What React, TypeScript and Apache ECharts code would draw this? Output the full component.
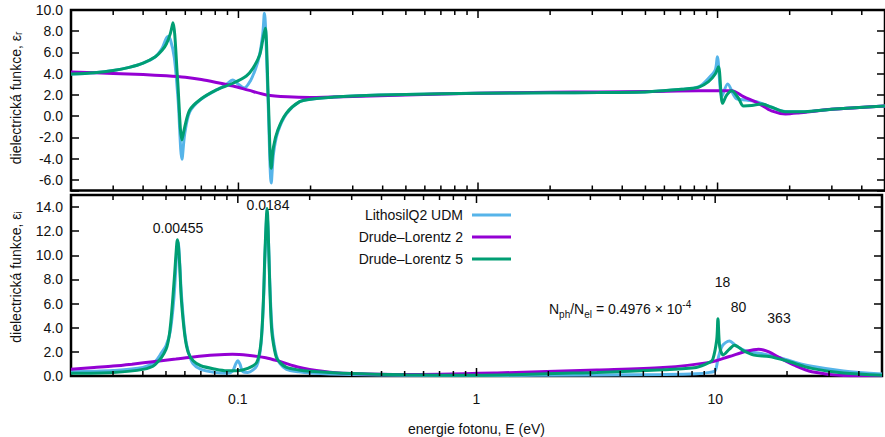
import React, { useEffect, useRef } from 'react';
import * as echarts from 'echarts';

const FONT = '"Liberation Sans", Arial, Helvetica, sans-serif';

const seriesNames = ['LithosilQ2 UDM', 'Drude–Lorentz 2', 'Drude–Lorentz 5'];
const seriesColors = ['#56b4e9', '#9400d3', '#009e73'];

// photon energy (eV), real part of permittivity
const udmReal: number[][] = [
  [0.02, 3.97], [0.025, 4.1], [0.03, 4.3], [0.035, 4.6], [0.04, 5.0], [0.045, 5.6], [0.048, 6.4],
  [0.0507, 7.5], [0.052, 7.2], [0.054, 5.5], [0.056, 1.5], [0.0581, -4.06], [0.0597, -1.6],
  [0.0626, 0.4], [0.0689, 1.5], [0.0809, 2.47], [0.088, 2.9], [0.0948, 3.4], [0.1, 3.0],
  [0.1058, 2.65], [0.112, 3.3], [0.118, 4.5], [0.1226, 5.8], [0.1264, 7.8], [0.1283, 9.7],
  [0.1327, 2.0], [0.1371, -6.3], [0.1401, -3.5], [0.146, -1.5], [0.1583, 0.2], [0.18, 1.35],
  [0.2, 1.6], [0.25, 1.8], [0.3, 1.9], [0.5, 2.05], [1, 2.15], [2, 2.2], [3.19, 2.22],
  [5.16, 2.31], [7.1, 2.53], [8.33, 2.75], [9.17, 3.57], [9.78, 4.35], [9.98, 5.6], [10.42, 1.84],
  [11.02, 3.03], [11.93, 1.69], [13.17, 1.53], [14.55, 1.37], [16.83, 0.84], [19.14, 0.45],
  [23.19, 0.42], [29.92, 0.65], [50, 0.97],
];
const dl2Real: number[][] = [
  [0.02, 4.15], [0.03, 4.03], [0.04, 3.92], [0.05, 3.8], [0.06, 3.66], [0.07, 3.45], [0.08, 3.2],
  [0.095, 2.84], [0.11, 2.45], [0.131, 2.0], [0.16, 1.82], [0.2, 1.76], [0.3, 1.85], [0.5, 2.0],
  [1, 2.15], [2, 2.25], [3.19, 2.28], [5.16, 2.33], [8.33, 2.4], [11.47, 2.4], [12.83, 1.84],
  [14.8, 1.21], [16.8, 0.49], [19.2, 0.21], [21.7, 0.3], [29.9, 0.65], [50, 0.97],
];
const dl5Real: number[][] = [
  [0.02, 3.97], [0.025, 4.1], [0.03, 4.3], [0.035, 4.6], [0.04, 5.0], [0.045, 5.6], [0.048, 6.2],
  [0.05, 6.8], [0.052, 7.8], [0.0533, 8.8], [0.0557, 3.5], [0.0581, -2.24], [0.0597, -1.0],
  [0.0626, 0.58], [0.0689, 1.53], [0.0809, 2.47], [0.0948, 3.1], [0.1079, 3.79], [0.1149, 4.5],
  [0.1226, 5.76], [0.1264, 7.2], [0.1294, 8.27], [0.1332, 1.7], [0.1371, -4.9], [0.1401, -2.87],
  [0.146, -1.3], [0.1583, 0.27], [0.18, 1.37], [0.2, 1.6], [0.25, 1.8], [0.3, 1.9], [0.5, 2.05],
  [1, 2.15], [2, 2.2], [3.19, 2.22], [5.16, 2.31], [7.1, 2.53], [8.33, 2.72], [9.17, 3.25],
  [9.78, 3.97], [10.09, 4.66], [10.49, 1.21], [10.93, 2.0], [11.47, 2.4], [12.23, 1.69],
  [12.83, 0.96], [13.89, 1.0], [15.29, 1.15], [16.83, 0.84], [19.14, 0.42], [23.19, 0.42],
  [29.92, 0.65], [50, 0.97],
];

// photon energy (eV), imaginary part of permittivity
const udmImag: number[][] = [
  [0.02, 0.35], [0.03, 0.45], [0.04, 0.7], [0.045, 1.2], [0.048, 1.95], [0.05, 2.5], [0.052, 3.6],
  [0.054, 6.5], [0.0556, 10.5], [0.0562, 11.1], [0.057, 9.6], [0.058, 6.8], [0.06, 3.5],
  [0.062, 2.0], [0.065, 1.0], [0.07, 0.55], [0.08, 0.3], [0.09, 0.22], [0.095, 0.4], [0.098, 1.0],
  [0.1, 1.26], [0.102, 1.0], [0.105, 0.35], [0.11, 0.3], [0.12, 0.85], [0.125, 2.6], [0.128, 6.0],
  [0.13, 10.0], [0.1327, 13.5], [0.134, 12.0], [0.136, 8.0], [0.138, 5.0], [0.14, 3.4],
  [0.145, 1.7], [0.15, 1.05], [0.16, 0.55], [0.18, 0.35], [0.2, 0.25], [0.3, 0.12], [0.5, 0.06],
  [1, 0.04], [3.19, 0.08], [6.05, 0.12], [8.33, 0.18], [9.46, 0.3], [10, 0.45], [10.27, 1.4],
  [10.71, 2.5], [11.47, 2.9], [12.23, 2.5], [13.5, 2.08], [16.1, 1.81], [18.5, 1.54],
  [21.7, 1.13], [25.4, 0.8], [34.5, 0.41], [50, 0.16],
];
const dl2Imag: number[][] = [
  [0.02, 0.55], [0.025, 0.7], [0.03, 0.82], [0.036, 0.98], [0.045, 1.2], [0.055, 1.4],
  [0.065, 1.58], [0.08, 1.74], [0.095, 1.8], [0.11, 1.72], [0.131, 1.52], [0.15, 1.2],
  [0.18, 0.72], [0.2, 0.55], [0.25, 0.3], [0.3, 0.2], [0.5, 0.12], [1.22, 0.25], [3.19, 0.5],
  [6.05, 0.7], [9.46, 1.13], [11.47, 1.62], [13.5, 2.05], [15.2, 2.22], [16.8, 2.0],
  [18.5, 1.54], [21.7, 0.85], [25.4, 0.36], [34.5, 0.05], [50, 0.02],
];
const dl5Imag: number[][] = [
  [0.02, 0.22], [0.03, 0.3], [0.04, 0.55], [0.045, 0.95], [0.05, 2.2], [0.052, 3.87], [0.054, 7.7],
  [0.0555, 11.0], [0.0559, 11.3], [0.057, 9.36], [0.058, 6.34], [0.06, 3.32], [0.062, 1.95],
  [0.065, 1.26], [0.07, 0.85], [0.08, 0.58], [0.09, 0.44], [0.1, 0.44], [0.11, 0.63], [0.12, 1.13],
  [0.125, 2.77], [0.128, 6.34], [0.13, 10.45], [0.1327, 13.88], [0.134, 12.1], [0.136, 7.7],
  [0.138, 4.42], [0.14, 3.05], [0.145, 1.54], [0.15, 1.13], [0.16, 0.71], [0.18, 0.5], [0.2, 0.4],
  [0.3, 0.2], [0.5, 0.1], [1, 0.06], [3.19, 0.3], [6.05, 0.52], [8.33, 0.71], [9.46, 1.13],
  [9.78, 1.4], [10.15, 3.0], [10.27, 4.75], [10.45, 2.4], [10.8, 1.75], [11.47, 2.22],
  [12.04, 2.55], [13.17, 2.08], [14.55, 1.73], [16.83, 1.62], [19.9, 1.26], [25.4, 0.63],
  [34.5, 0.25], [50, 0.07],
];

const xMajorTicks = [0.1, 1, 10];
const xMinorTicks = [
  0.03, 0.04, 0.05, 0.06, 0.07, 0.08, 0.09,
  0.2, 0.3, 0.4, 0.5, 0.6, 0.7, 0.8, 0.9,
  2, 3, 4, 5, 6, 7, 8, 9,
  20, 30, 40,
];

const peakLabels = ['0.00455', '0.0184', '18', '80', '363'];
const yTitles = ['dielectrická funkce, ε{sub|r}', 'dielectrická funkce, ε{sub|i}'];

const X_MIN = 0.02;
const X_MAX = 50;

function fmtY(v: number) {
  const r = Math.round(v);
  if (Math.abs(v - r) < 1e-6 && r % 2 === 0) return r.toFixed(1);
  return '';
}
function fmtX(v: number) {
  const l = Math.log10(v);
  if (Math.abs(l - Math.round(l)) < 1e-6) return String(+v.toPrecision(6));
  return '';
}

const textColor = '#111';

export default function App() {
  const ref = useRef<HTMLDivElement>(null);
  useEffect(() => {
    if (!ref.current) return;
    const chart = echarts.init(ref.current, null, { renderer: 'svg' });

    const tickData = [
      ...xMajorTicks.map((v) => [v, 0, 1]),
      ...xMinorTicks.map((v) => [v, 0, 0]),
    ];
    const tickRender = (params: any, api: any) => {
      const cs = params.coordSys;
      const px = api.coord([api.value(0), 0])[0];
      const len = api.value(2) ? 8 : 5;
      const st = { stroke: '#000', lineWidth: 1.5 };
      return {
        type: 'group',
        children: [
          { type: 'line', shape: { x1: px, y1: cs.y, x2: px, y2: cs.y + len }, style: st },
          { type: 'line', shape: { x1: px, y1: cs.y + cs.height, x2: px, y2: cs.y + cs.height - len }, style: st },
        ],
      };
    };

    const yTick = { show: true, inside: true, length: 8, lineStyle: { color: '#000', width: 1.5 } };
    const yLabel = { formatter: fmtY, fontSize: 14, color: textColor, margin: 8, fontFamily: FONT };

    const titleText = (text: string, cx: number, cy: number) => ({
      type: 'text',
      x: cx,
      y: cy,
      rotation: Math.PI / 2,
      style: {
        text,
        align: 'center',
        verticalAlign: 'middle',
        fontSize: 14,
        fontFamily: FONT,
        fill: textColor,
        rich: {
          n: { fontSize: 14, fontFamily: FONT, fill: textColor, lineHeight: 18 },
          sub: { fontSize: 10, fontFamily: FONT, fill: textColor, lineHeight: 10, verticalAlign: 'bottom' },
        },
      },
    });

    const lineSeries = (name: string, color: string, data: number[][], xi: number, yi: number) => ({
      name,
      type: 'line',
      xAxisIndex: xi,
      yAxisIndex: yi,
      data,
      showSymbol: false,
      symbol: 'none',
      smooth: 0.3,
      lineStyle: { color, width: 3 },
      itemStyle: { color },
      z: 2,
    });

    const centerLabel = (text: string, x: number, y: number) => ({
      type: 'text', x, y,
      style: { text, fontSize: 14, fontFamily: FONT, fill: textColor, align: 'center', verticalAlign: 'middle' },
    });

    const option: any = {
      animation: false,
      backgroundColor: '#fff',
      textStyle: { fontFamily: FONT },
      grid: [
        { left: 71, right: -2, top: 10, height: 180.5, show: true, borderColor: '#000', borderWidth: 2.5, backgroundColor: 'transparent' },
        { left: 71, right: -2, top: 195, height: 182, show: true, borderColor: '#000', borderWidth: 2.5, backgroundColor: 'transparent' },
      ],
      xAxis: [
        {
          gridIndex: 0, type: 'log', logBase: 10, min: X_MIN, max: X_MAX,
          axisLine: { show: false }, axisTick: { show: false }, axisLabel: { show: false }, splitLine: { show: false },
        },
        {
          gridIndex: 1, type: 'log', logBase: 10, min: X_MIN, max: X_MAX,
          axisLine: { show: false }, axisTick: { show: false }, splitLine: { show: false },
          axisLabel: { formatter: fmtX, fontSize: 14, color: textColor, margin: 16, fontFamily: FONT },
          name: 'energie fotonu, E (eV)', nameLocation: 'middle', nameGap: 46,
          nameTextStyle: { fontSize: 14, color: textColor, fontFamily: FONT },
        },
      ],
      yAxis: [
        {
          gridIndex: 0, type: 'value', min: -7, max: 10, splitNumber: 8, position: 'left',
          axisLine: { show: false }, axisTick: yTick, axisLabel: yLabel, splitLine: { show: false },
        },
        {
          gridIndex: 0, type: 'value', min: -7, max: 10, splitNumber: 8, position: 'right',
          axisLine: { show: false }, axisTick: yTick, axisLabel: { show: false }, splitLine: { show: false },
        },
        {
          gridIndex: 1, type: 'value', min: 0, max: 15, splitNumber: 8, position: 'left',
          axisLine: { show: false }, axisTick: yTick, axisLabel: yLabel, splitLine: { show: false },
        },
        {
          gridIndex: 1, type: 'value', min: 0, max: 15, splitNumber: 8, position: 'right',
          axisLine: { show: false }, axisTick: yTick, axisLabel: { show: false }, splitLine: { show: false },
        },
      ],
      legend: {
        data: seriesNames,
        orient: 'vertical',
        right: 374,
        top: 208,
        padding: 0,
        align: 'right',
        icon: 'rect',
        itemWidth: 39,
        itemHeight: 3,
        itemGap: 8,
        selectedMode: false,
        textStyle: { fontSize: 14, fontFamily: FONT, color: textColor, padding: [0, 4, 0, 0] },
      },
      graphic: [
        titleText(yTitles[0], 16, 98),
        titleText(yTitles[1], 16, 277),
        centerLabel(peakLabels[0], 178, 228),
        centerLabel(peakLabels[1], 268, 205),
        centerLabel(peakLabels[2], 722.5, 282),
        centerLabel(peakLabels[3], 738.5, 307),
        centerLabel(peakLabels[4], 779, 318),
        {
          type: 'text', x: 549, y: 309,
          style: {
            text: '{n|N}{sub|ph}{n|/N}{sub|el}{n| = 0.4976 × 10}{sup|-4}',
            align: 'left', verticalAlign: 'middle', fontSize: 14, fontFamily: FONT, fill: textColor,
            rich: {
              n: { fontSize: 14, fontFamily: FONT, fill: textColor, lineHeight: 20 },
              sub: { fontSize: 10, fontFamily: FONT, fill: textColor, lineHeight: 10, verticalAlign: 'bottom' },
              sup: { fontSize: 10, fontFamily: FONT, fill: textColor, lineHeight: 10, verticalAlign: 'top' },
            },
          },
        },
      ],
      series: [
        lineSeries(seriesNames[0], seriesColors[0], udmReal, 0, 0),
        lineSeries(seriesNames[1], seriesColors[1], dl2Real, 0, 0),
        lineSeries(seriesNames[2], seriesColors[2], dl5Real, 0, 0),
        lineSeries(seriesNames[0], seriesColors[0], udmImag, 1, 2),
        lineSeries(seriesNames[1], seriesColors[1], dl2Imag, 1, 2),
        lineSeries(seriesNames[2], seriesColors[2], dl5Imag, 1, 2),
        { type: 'custom', name: 'ticksTop', xAxisIndex: 0, yAxisIndex: 0, data: tickData, renderItem: tickRender, silent: true, clip: false, z: 5 },
        { type: 'custom', name: 'ticksBottom', xAxisIndex: 1, yAxisIndex: 2, data: tickData, renderItem: tickRender, silent: true, clip: false, z: 5 },
      ],
    };
    chart.setOption(option);
    return () => chart.dispose();
  }, []);
  return (
    <div
      ref={ref}
      style={{ position: 'fixed', left: 0, top: 0, width: 885, height: 437, background: '#fff' }}
    />
  );
}
